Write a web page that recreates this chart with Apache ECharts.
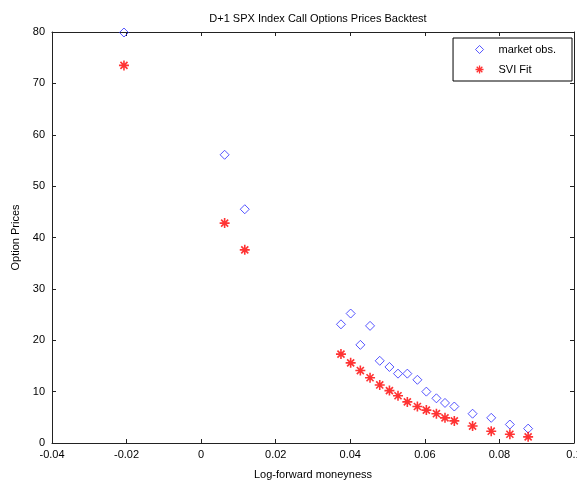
<!DOCTYPE html>
<html>
<head>
<meta charset="utf-8">
<script src="https://cdn.jsdelivr.net/npm/echarts@6/dist/echarts.min.js"></script>
<style>html,body{margin:0;padding:0;background:#fff}#c{width:577px;height:480px}</style>
</head>
<body>
<div id="c"></div>
<script>
const moneyness = [-0.0207, 0.0063, 0.0117, 0.0375, 0.0401, 0.0427, 0.0453, 0.0479, 0.0505, 0.0528, 0.0553, 0.0580, 0.0604, 0.0631, 0.0654, 0.0679, 0.0728, 0.0778, 0.0828, 0.0877];
const marketObs = [79.9, 56.1, 45.5, 23.1, 25.2, 19.1, 22.8, 16.0, 14.8, 13.5, 13.5, 12.3, 10.0, 8.7, 7.8, 7.1, 5.7, 4.9, 3.6, 2.8];
const sviFit = [73.5, 42.8, 37.6, 17.3, 15.6, 14.1, 12.7, 11.3, 10.2, 9.2, 8.0, 7.1, 6.4, 5.7, 4.9, 4.3, 3.3, 2.3, 1.7, 1.2];
const seriesNames = ['market obs.', 'SVI Fit'];
const titleText = 'D+1 SPX Index Call Options Prices Backtest';
const xName = 'Log-forward moneyness';
const yName = 'Option Prices';

const FONT = 'Liberation Sans';
const star = 'path://M-0.8,-5L0.8,-5L0.8,5L-0.8,5Z M-5,-0.8L5,-0.8L5,0.8L-5,0.8Z M-4.1,-2.95L-2.95,-4.1L4.1,2.95L2.95,4.1Z M2.95,-4.1L4.1,-2.95L-2.95,4.1L-4.1,2.95Z';
const axisCol = '#222';
function fmt(v){ return String(+v.toFixed(2)); }
const chart = echarts.init(document.getElementById('c'), null, {renderer:'canvas'});
chart.setOption({
  animation: false,
  backgroundColor: '#fff',
  title: {text: titleText, left: 313, top: 8, textAlign: 'center',
    textStyle: {fontFamily: FONT, fontSize: 11, fontWeight: 'normal', color: '#000'}},
  legend: {
    orient: 'vertical', right: 5, top: 38,
    data: [{name: seriesNames[0], itemStyle: {borderWidth: 1}}, {name: seriesNames[1]}],
    itemWidth: 8, itemHeight: 8, itemGap: 9,
    padding: [6, 16, 6, 22],
    borderColor: '#000', borderWidth: 1, backgroundColor: '#fff',
    textStyle: {fontFamily: FONT, fontSize: 11, color: '#000', padding: [0, 0, 0, 10]}
  },
  grid: {left: 52, right: 3, top: 32, bottom: 37, containLabel: false, outerBoundsMode: 'none'},
  xAxis: [
    {type: 'value', min: -0.04, max: 0.1, interval: 0.02, position: 'bottom',
     name: xName, nameLocation: 'middle', nameGap: 26,
     nameTextStyle: {fontFamily: FONT, fontSize: 11, color: '#000'},
     axisLine: {onZero: false, lineStyle: {color: axisCol, width: 1}},
     axisTick: {inside: true, length: 4, lineStyle: {color: axisCol}},
     axisLabel: {formatter: fmt, fontFamily: FONT, fontSize: 11, color: '#000', margin: 6},
     splitLine: {show: false}},
    {type: 'value', min: -0.04, max: 0.1, interval: 0.02, position: 'top',
     axisLine: {onZero: false, lineStyle: {color: axisCol, width: 1}},
     axisTick: {inside: true, length: 4, lineStyle: {color: axisCol}},
     axisLabel: {show: false}, splitLine: {show: false}}
  ],
  yAxis: [
    {type: 'value', min: 0, max: 80, interval: 10, position: 'left',
     name: yName, nameLocation: 'middle', nameGap: 31,
     nameTextStyle: {fontFamily: FONT, fontSize: 11, color: '#000'},
     axisLine: {show: true, onZero: false, lineStyle: {color: axisCol, width: 1}},
     axisTick: {show: true, inside: true, length: 4, lineStyle: {color: axisCol}},
     axisLabel: {fontFamily: FONT, fontSize: 11, color: '#000', margin: 7},
     splitLine: {show: false}},
    {type: 'value', min: 0, max: 80, interval: 10, position: 'right',
     axisLine: {show: true, onZero: false, lineStyle: {color: axisCol, width: 1}},
     axisTick: {show: true, inside: true, length: 4, lineStyle: {color: axisCol}},
     axisLabel: {show: false}, splitLine: {show: false}}
  ],
  series: [
    {name: seriesNames[0], type: 'scatter', xAxisIndex: 0, yAxisIndex: 0,
     symbol: 'diamond', symbolSize: 9,
     itemStyle: {color: 'rgba(255,255,255,0)', borderColor: '#2a2aff', borderWidth: 1},
     data: moneyness.map((x, i) => [x, marketObs[i]])},
    {name: seriesNames[1], type: 'scatter', xAxisIndex: 0, yAxisIndex: 0,
     symbol: star, symbolSize: 10,
     itemStyle: {color: '#ff0000'},
     data: moneyness.map((x, i) => [x, sviFit[i]])}
  ]
});
</script>
</body>
</html>
